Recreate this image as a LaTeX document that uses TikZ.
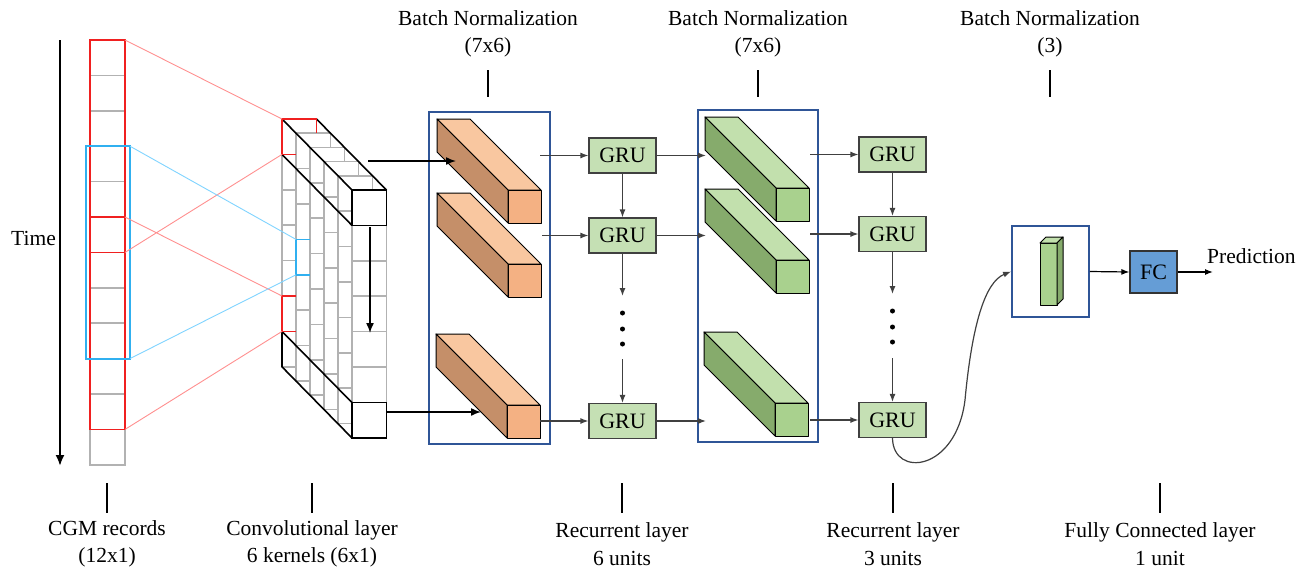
\documentclass[tikz,border=0pt]{standalone}
\usepackage{fontspec}
\setmainfont{Liberation Serif}
\usetikzlibrary{arrows.meta}
\definecolor{otop}{HTML}{F9C7A0}
\definecolor{oside}{HTML}{C58F69}
\definecolor{ofront}{HTML}{F4B183}
\definecolor{gtop}{HTML}{C2E0AD}
\definecolor{gside}{HTML}{86AB6C}
\definecolor{gfront}{HTML}{A9D18E}
\definecolor{grufill}{HTML}{C5E0B4}
\definecolor{bnblue}{HTML}{2F5597}
\definecolor{fcblue}{HTML}{659DD6}
\definecolor{lred}{HTML}{FF9090}
\definecolor{lblue}{HTML}{80D4FF}
\definecolor{cred}{HTML}{F02020}
\definecolor{cblue}{HTML}{30B0F0}
\definecolor{arr}{HTML}{404040}
\newcommand\mycuboid[5]{%
  \filldraw[fill=#3,draw=black,line width=1pt,line join=round] (#1,#2) -- ++(33,0) -- ++(71,71) -- ++(-33,0) -- cycle;
  \filldraw[fill=#4,draw=black,line width=1pt,line join=round] (#1,#2) -- ++(71,71) -- ++(0,33) -- ++(-71,-71) -- cycle;
  \filldraw[fill=#5,draw=black,line width=1pt,line join=round] (#1+71,#2+71) rectangle ++(33,33);
}
\begin{document}
\begin{tikzpicture}[x=1pt,y=-1pt,
  txt/.style={font=\fontsize{21.5}{27.5}\selectfont,align=center,inner sep=0pt},
  gru/.style={draw=arr,fill=grufill,line width=1.2pt,minimum width=67pt,minimum height=35pt,inner sep=0pt,font=\fontsize{22}{26}\selectfont},
  bnbox/.style={draw=bnblue,line width=1.8pt,inner sep=0pt},
  fcbox/.style={draw=black!80,fill=fcblue,line width=1.2pt,minimum width=47pt,minimum height=42pt,inner sep=0pt,font=\fontsize{22}{26}\selectfont},
  tick/.style={line width=1.8pt,black},
  ga/.style={draw=arr,line width=1.2pt,-{Latex[length=8pt,width=6pt]}},
  gl/.style={draw=arr,line width=1.2pt},
  ba/.style={draw=black,line width=1.5pt,-{Latex[length=10pt,width=8pt]}},
  cell/.style={draw=gray!60,line width=1.6pt,fill=white}
]
\useasboundingbox (0,0) rectangle (1311,574);
\fill[white] (0,0) rectangle (1311,574);

% ---------- Time axis ----------
\coordinate (t0) at (60,40);
\coordinate (t1) at (60,466);
\draw[line width=2pt,-{Latex[length=11pt,width=9pt]}] (t0) -- (t1);
\node[txt,anchor=east] (time) at (56,238) {Time};

% ---------- CGM column ----------
\foreach \j in {0,...,11}
  \draw[cell] (90,40+35.4*\j) rectangle ++(35,35.4);
\draw[cred,line width=1.8pt] (90,40) rectangle (125,252.4);
\draw[cred,line width=1.8pt] (90,217) rectangle (125,429.4);
\draw[cblue,line width=1.8pt] (86,146.2) rectangle (130,358.6);
\coordinate (w1a) at (125,40);
\coordinate (w1b) at (125,252.4);
\coordinate (w2a) at (125,217);
\coordinate (w2b) at (125,429.4);
\coordinate (wba) at (130,146.2);
\coordinate (wbb) at (130,358.6);

% ---------- Conv block ----------
\foreach \k in {0,...,5}
  \foreach \j in {0,...,6}
    \draw[cell] (282+14*\k,119+14.2*\k+35.4*\j) rectangle ++(34.5,35.4);
\coordinate (c1a) at (282,119);
\coordinate (c1b) at (282,154.4);
\coordinate (c2a) at (282,296);
\coordinate (c2b) at (282,331.4);
\coordinate (cba) at (296,239.4);
\coordinate (cbb) at (296,274.8);
\draw[line width=1.6pt] (282,119) -- (352,190) (316.5,119) -- (386.5,190)
  (282,154.4) -- (352,225.4);
\draw[line width=1.6pt] (352,190) rectangle (386.5,225.4);
\draw[line width=1.6pt] (282,331.4) -- (352,402.6) (282,366.8) -- (352,438)
  (282,331.4) -- (282,366.8);
\draw[line width=1.6pt] (352,402.6) rectangle (386.5,438);
\draw[cred,line width=1.6pt] (296,154.4) -- (282,154.4) -- (282,119) -- (316.5,119) -- (316.5,133.2);
\draw[cred,line width=1.6pt] (296,296) -- (282,296) -- (282,331.4) -- (296,331.4);
\draw[cblue,line width=1.6pt] (310,239.4) -- (296,239.4) -- (296,274.8) -- (310,274.8);
\coordinate (ca0) at (370,227);
\coordinate (ca1) at (370,333);
\draw[ba] (ca0) -- (ca1);

% connectors CGM -> conv
\draw[lred,line width=0.9pt] (w1a) -- (c1a) (w1b) -- (c1b) (w2a) -- (c2a) (w2b) -- (c2b);
\draw[lblue,line width=0.9pt] (wba) -- (cba) (wbb) -- (cbb);

% ---------- BN 1 with orange bars ----------
\node[bnbox,minimum width=121pt,minimum height=332pt] (bn1) at (489.5,278) {};
\mycuboid{437}{119}{otop}{oside}{ofront}
\mycuboid{437}{193}{otop}{oside}{ofront}
\mycuboid{436}{334}{otop}{oside}{ofront}
\coordinate (cout1) at (368,161);
\coordinate (cout2) at (387,412);
\coordinate (o1in) at (456,161);
\coordinate (o3in) at (481,412);
\draw[ba] (cout1) -- (o1in);
\draw[ba] (cout2) -- (o3in);

% ---------- GRU column 1 ----------
\node[gru] (g11) at (622.5,155.5) {GRU};
\node[gru] (g12) at (622.5,235.5) {GRU};
\node[gru] (g13) at (622.5,421) {GRU};
\coordinate (o1out) at (540,155.5);
\coordinate (o2out) at (542,235.5);
\coordinate (o3out) at (540,421);
\draw[ga] (o1out) -- (g11.west);
\draw[ga] (o2out) -- (g12.west);
\draw[ga] (o3out) -- (g13.west);
\draw[ga] (g11.south) -- (g12.north);
\coordinate (d1a) at (622.5,296);
\coordinate (d1b) at (622.5,359);
\draw[ga] (g12.south) -- (d1a);
\draw[ga] (d1b) -- (g13.north);
\foreach \yy in {313,329,344} \fill (622.5,\yy) circle (2.5pt);

% ---------- BN 2 with green bars ----------
\node[bnbox,minimum width=120pt,minimum height=332pt] (bn2) at (758,276) {};
\mycuboid{705}{117}{gtop}{gside}{gfront}
\mycuboid{705}{189}{gtop}{gside}{gfront}
\mycuboid{704}{332}{gtop}{gside}{gfront}
\coordinate (gr1in) at (706,155.5);
\coordinate (gr2in) at (706,235.5);
\coordinate (gr3in) at (706,421);
\draw[ga] (g11.east) -- (gr1in);
\draw[ga] (g12.east) -- (gr2in);
\draw[ga] (g13.east) -- (gr3in);

% ---------- GRU column 2 ----------
\node[gru] (g21) at (892.5,154.5) {GRU};
\node[gru] (g22) at (892.5,234) {GRU};
\node[gru] (g23) at (892.5,420) {GRU};
\coordinate (gr1out) at (810,154.5);
\coordinate (gr2out) at (810,234);
\coordinate (gr3out) at (810,420);
\draw[ga] (gr1out) -- (g21.west);
\draw[ga] (gr2out) -- (g22.west);
\draw[ga] (gr3out) -- (g23.west);
\draw[ga] (g21.south) -- (g22.north);
\coordinate (d2a) at (892.5,294);
\coordinate (d2b) at (892.5,358);
\draw[ga] (g22.south) -- (d2a);
\draw[ga] (d2b) -- (g23.north);
\foreach \yy in {311,327,342} \fill (892.5,\yy) circle (2.5pt);

% ---------- BN 3 ----------
\node[bnbox,minimum width=77pt,minimum height=91pt] (bn3) at (1050.5,271.5) {};
\filldraw[fill=gfront,draw=black,line width=1pt,line join=round] (1040,243) rectangle (1057,305);
\filldraw[fill=gtop,draw=black,line width=1pt,line join=round] (1040,243) -- (1046,237) -- (1063,237) -- (1057,243) -- cycle;
\filldraw[fill=gside,draw=black,line width=1pt,line join=round] (1057,243) -- (1063,237) -- (1063,299) -- (1057,305) -- cycle;
\draw[gl,-{Latex[length=8pt,width=6pt]}] (g23.south) .. controls (893,478) and (956,472) .. (965,400)
  .. controls (972,325) and (985,282) .. (bn3.west);

% ---------- FC ----------
\node[fcbox] (fc) at (1153.5,272) {FC};
\coordinate (pred) at (1213,272);
\draw[ga,draw=black] (bn3.east) -- (fc.west);
\draw[ga,draw=black] (fc.east) -- (pred);
\node[txt,anchor=west] (predl) at (1207,256) {Prediction};

% ---------- top labels ----------
\node[txt] (tl1) at (488,34) {Batch Normalization\\(7x6)};
\node[txt] (tl2) at (758,34) {Batch Normalization\\(7x6)};
\node[txt] (tl3) at (1050,34) {Batch Normalization\\(3)};
\draw[tick] (488,70) -- (488,97);
\draw[tick] (758,70) -- (758,97);
\draw[tick] (1050,70) -- (1050,97);

% ---------- bottom labels ----------
\draw[tick] (107,483) -- (107,513);
\draw[tick] (312,483) -- (312,513);
\draw[tick] (622,483) -- (622,513);
\draw[tick] (893,483) -- (893,513);
\draw[tick] (1160,483) -- (1160,513);
\node[txt] (bl1) at (107,544) {CGM records\\(12x1)};
\node[txt] (bl2) at (312,544) {Convolutional layer\\6 kernels (6x1)};
\node[txt] (bl3) at (622,544) {Recurrent layer\\6 units};
\node[txt] (bl4) at (893,544) {Recurrent layer\\3 units};
\node[txt] (bl5) at (1160,544) {Fully Connected layer\\1 unit};
\end{tikzpicture}
\end{document}
